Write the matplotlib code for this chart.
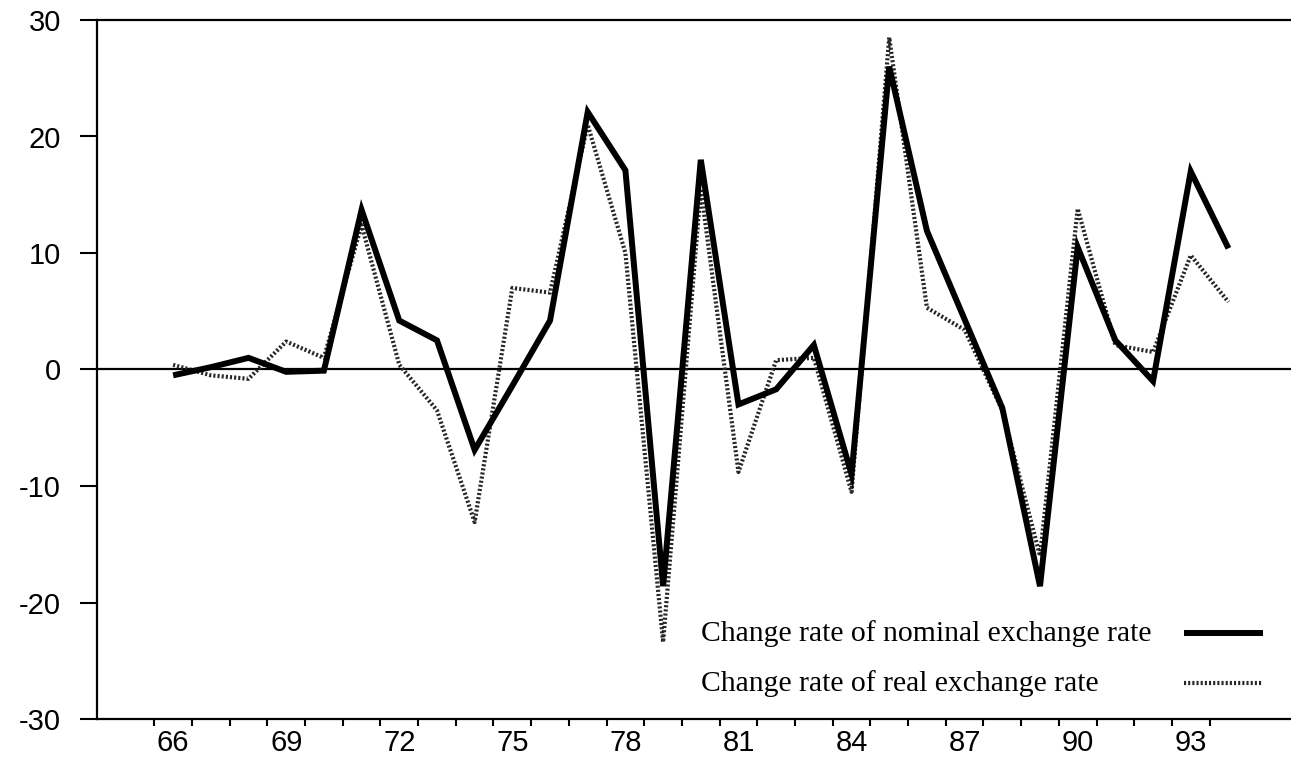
"""Change rates of nominal and real exchange rate, 1966-1994."""

import matplotlib

matplotlib.use("Agg")
import matplotlib.pyplot as plt
from matplotlib.lines import Line2D
from matplotlib.ticker import FixedLocator, NullFormatter

plt.rcParams["axes.unicode_minus"] = False

years = list(range(66, 95))
nominal = [-0.5, 0.2, 1.0, -0.2, -0.1, 13.7, 4.2, 2.5, -6.9, -1.4,
           4.2, 22.1, 17.1, -18.6, 18.0, -3.0, -1.7, 2.1, -9.0, 26.0,
           11.9, 4.3, -3.3, -18.6, 10.5, 2.5, -1.0, 17.0, 10.4]
real = [0.4, -0.5, -0.8, 2.4, 1.0, 12.4, 0.4, -3.5, -13.1, 7.0,
        6.6, 21.0, 10.0, -23.4, 15.5, -8.8, 0.8, 1.0, -10.5, 28.5,
        5.3, 3.4, -3.5, -16.0, 13.8, 2.1, 1.5, 9.8, 5.8]
label_years = [66, 69, 72, 75, 78, 81, 84, 87, 90, 93]
y_ticks = [-30, -20, -10, 0, 10, 20, 30]
series_names = ["Change rate of nominal exchange rate",
                "Change rate of real exchange rate"]

W, H = 1291, 764
fig = plt.figure(figsize=(W / 100, H / 100), dpi=100)
ax = fig.add_axes([97 / W, 1 - 719 / H, 1 - 97 / W, (719 - 20) / H])

real_style = dict(color="0.15", lw=3.0, ls=(0, (0.5, 0.5)))
nom_style = dict(color="black", lw=4.3, solid_capstyle="butt")

ax.plot(years, real, zorder=2, **real_style)
ax.plot(years, nominal, zorder=3, solid_joinstyle="miter", **nom_style)
ax.axhline(0, color="black", lw=1.6, zorder=1)

ax.set_xlim(63.98, 95.66)
ax.set_ylim(-30, 30)

# ticks sit between years, labels centred on the years
ax.xaxis.set_major_locator(FixedLocator([y + 0.5 for y in range(65, 94)]))
ax.xaxis.set_major_formatter(NullFormatter())
ax.xaxis.set_minor_locator(FixedLocator(label_years))
ax.set_xticklabels([str(y) for y in label_years], minor=True)
ax.tick_params(axis="x", which="major", direction="out", length=5, width=1.5)
ax.tick_params(axis="x", which="minor", length=0, pad=7)
ax.set_yticks(y_ticks)
ax.tick_params(axis="y", direction="out", length=12, width=1.5, pad=14)
for lab in ax.get_xticklabels(minor=True) + ax.get_yticklabels():
    lab.set_fontfamily("Liberation Sans")
    lab.set_fontsize(21)

for side in ("left", "top", "bottom"):
    ax.spines[side].set_linewidth(1.6)
ax.spines["right"].set_visible(False)

# legend drawn by hand: text left-aligned, sample line on the right
for name, style, y_px in zip(series_names, [nom_style, real_style], [633, 683]):
    fig.text(701 / W, 1 - (y_px + 8) / H, name, family="Liberation Serif",
             fontsize=21.3, ha="left", va="baseline")
    fig.add_artist(Line2D([1184 / W, 1263 / W], [1 - y_px / H, 1 - y_px / H],
                          transform=fig.transFigure, **style))

fig.savefig("out.png", dpi=100)
